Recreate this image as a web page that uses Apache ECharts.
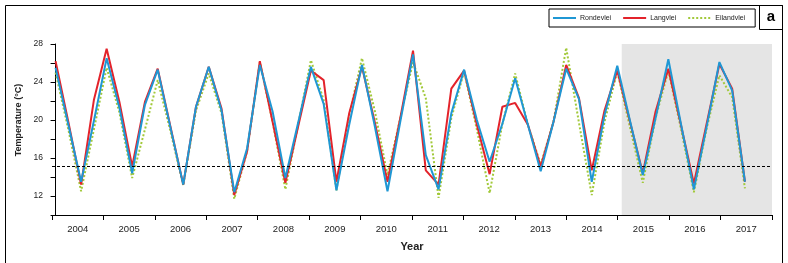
<!DOCTYPE html>
<html>
<head>
<meta charset="utf-8">
<script src="https://cdn.jsdelivr.net/npm/echarts@6/dist/echarts.min.js"></script>
<style>
html,body{margin:0;padding:0;background:#fff;}
#chart{width:788px;height:263px;}
</style>
</head>
<body>
<div id="chart"></div>
<script>
// Year categories (x-axis labels)
const years = ['2004','2005','2006','2007','2008','2009','2010','2011','2012','2013','2014','2015','2016','2017'];
// Quarterly mean temperature (°C), 55 readings from early 2004 to mid 2017
const rondevlei = [25.5,19.5,13.5,19.9,26.5,21.3,14.4,21.6,25.3,19.2,13.2,21.4,25.6,21.0,12.4,17.0,25.8,20.9,13.9,19.7,
  25.6,21.7,12.6,19.5,25.8,19.4,12.5,19.8,26.9,16.3,12.7,20.7,25.3,20.0,15.6,19.6,24.4,19.5,14.6,19.8,
  25.4,22.2,13.5,20.5,25.7,19.9,14.2,20.2,26.4,19.5,12.7,19.3,26.1,23.1,13.5];
const langvlei = [26.2,19.8,13.2,22.1,27.5,21.9,15.1,21.9,25.4,19.3,13.2,21.4,25.6,21.2,12.1,16.7,26.2,19.8,13.4,19.3,
  25.2,24.2,13.5,20.7,25.6,19.8,13.5,20.2,27.3,14.7,13.2,23.3,25.2,19.5,14.3,21.4,21.8,19.5,15.1,19.8,
  25.8,22.3,14.7,21.0,25.2,19.8,14.4,20.9,25.4,19.4,13.3,19.6,25.9,23.3,13.5];
const eilandvlei = [25.0,19.0,12.5,19.0,25.5,20.8,13.9,19.0,24.2,18.8,13.1,21.0,24.9,20.7,11.7,16.7,26.1,19.8,12.7,19.5,
  26.3,22.1,12.6,20.5,26.5,21.0,14.2,20.2,26.1,22.3,11.8,20.2,25.1,19.0,12.3,19.6,24.9,19.5,15.3,19.8,
  27.6,19.7,12.1,19.8,25.1,19.2,13.4,20.2,25.2,19.0,12.4,19.1,24.7,22.4,12.8];
// y tick labels shown
const yTickLabels = [12,16,20,24,28];
// dashed reference temperature
const referenceTemp = [15.1];
// shaded period (in quarter index units)
const shadedPeriod = [44.35, 56.12];

const FONT = "'Liberation Sans',Arial,sans-serif";
const quarterAxisMin = -0.28, quarterAxisMax = 56.12;

function toPairs(arr){ return arr.map((v,i)=>[i,v]); }

const chart = echarts.init(document.getElementById('chart'), null, {renderer:'canvas'});
chart.setOption({
  animation:false,
  backgroundColor:'#fff',
  grid:{left:52,right:16,top:44,bottom:48},
  legend:{
    left:549, top:9,
    data:['Rondevlei','Langvlei','Eilandvlei'],
    borderColor:'#000', borderWidth:1, borderRadius:0,
    padding:[5,10,5,3],
    itemGap:11, itemWidth:23, itemHeight:10,
    itemStyle:{opacity:0},
    textStyle:{fontFamily:FONT,fontSize:7,color:'#222',padding:[0,0,0,-1]}
  },
  xAxis:[
    {type:'category',data:years,boundaryGap:true,
     axisLine:{lineStyle:{color:'#000',width:1}},
     axisTick:{show:true,length:5,lineStyle:{color:'#000'}},
     axisLabel:{fontFamily:FONT,fontSize:9.5,color:'#222',margin:9},
     splitLine:{show:false},
     name:'Year',nameLocation:'middle',nameGap:26,
     nameTextStyle:{fontFamily:FONT,fontSize:11,fontWeight:'bold',color:'#222'}},
    {type:'value',min:quarterAxisMin,max:quarterAxisMax,show:false,splitLine:{show:false}}
  ],
  yAxis:{type:'value',min:10,max:28,interval:2,
    axisLine:{show:true,lineStyle:{color:'#000',width:1}},
    axisTick:{show:true,length:5,lineStyle:{color:'#000'}},
    splitLine:{show:false},
    axisLabel:{fontFamily:FONT,fontSize:8.5,color:'#222',margin:9,
      formatter:v=> yTickLabels.indexOf(v)>=0 ? String(v) : ''},
    name:'Temperature (°C)',nameLocation:'middle',nameGap:28,
    nameTextStyle:{fontFamily:FONT,fontSize:9,fontWeight:'bold',color:'#222',padding:[0,0,0,19]}
  },
  series:[
    {name:'Eilandvlei',type:'line',xAxisIndex:1,data:toPairs(eilandvlei),symbol:'none',z:2,
     color:'#a2c93a',lineStyle:{color:'#a2c93a',width:2,type:'dotted'},
     markArea:{silent:true,itemStyle:{color:'#e5e5e5'},
       data:[[{xAxis:shadedPeriod[0]},{xAxis:shadedPeriod[1]}]]}},
    {name:'Langvlei',type:'line',xAxisIndex:1,data:toPairs(langvlei),symbol:'none',z:3,
     color:'#e3232b',lineStyle:{color:'#e3232b',width:2},
     markLine:{silent:true,symbol:'none',label:{show:false},
       lineStyle:{color:'#000',type:[3,2],width:1.2},
       data:referenceTemp.map(v=>({yAxis:v}))}},
    {name:'Rondevlei',type:'line',xAxisIndex:1,data:toPairs(rondevlei),symbol:'none',z:4,
     color:'#1f97d4',lineStyle:{color:'#1f97d4',width:2}}
  ],
  graphic:[
    {type:'rect',shape:{x:5.5,y:5.5,width:777,height:280},style:{fill:null,stroke:'#000',lineWidth:1},silent:true},
    {type:'rect',shape:{x:759.5,y:5.5,width:23,height:24},style:{fill:null,stroke:'#000',lineWidth:1},silent:true},
    {type:'text',x:771,y:17,style:{text:'a',font:"bold 15px "+FONT,fill:'#000',textAlign:'center',textVerticalAlign:'middle'},silent:true}
  ]
});
</script>
</body>
</html>
